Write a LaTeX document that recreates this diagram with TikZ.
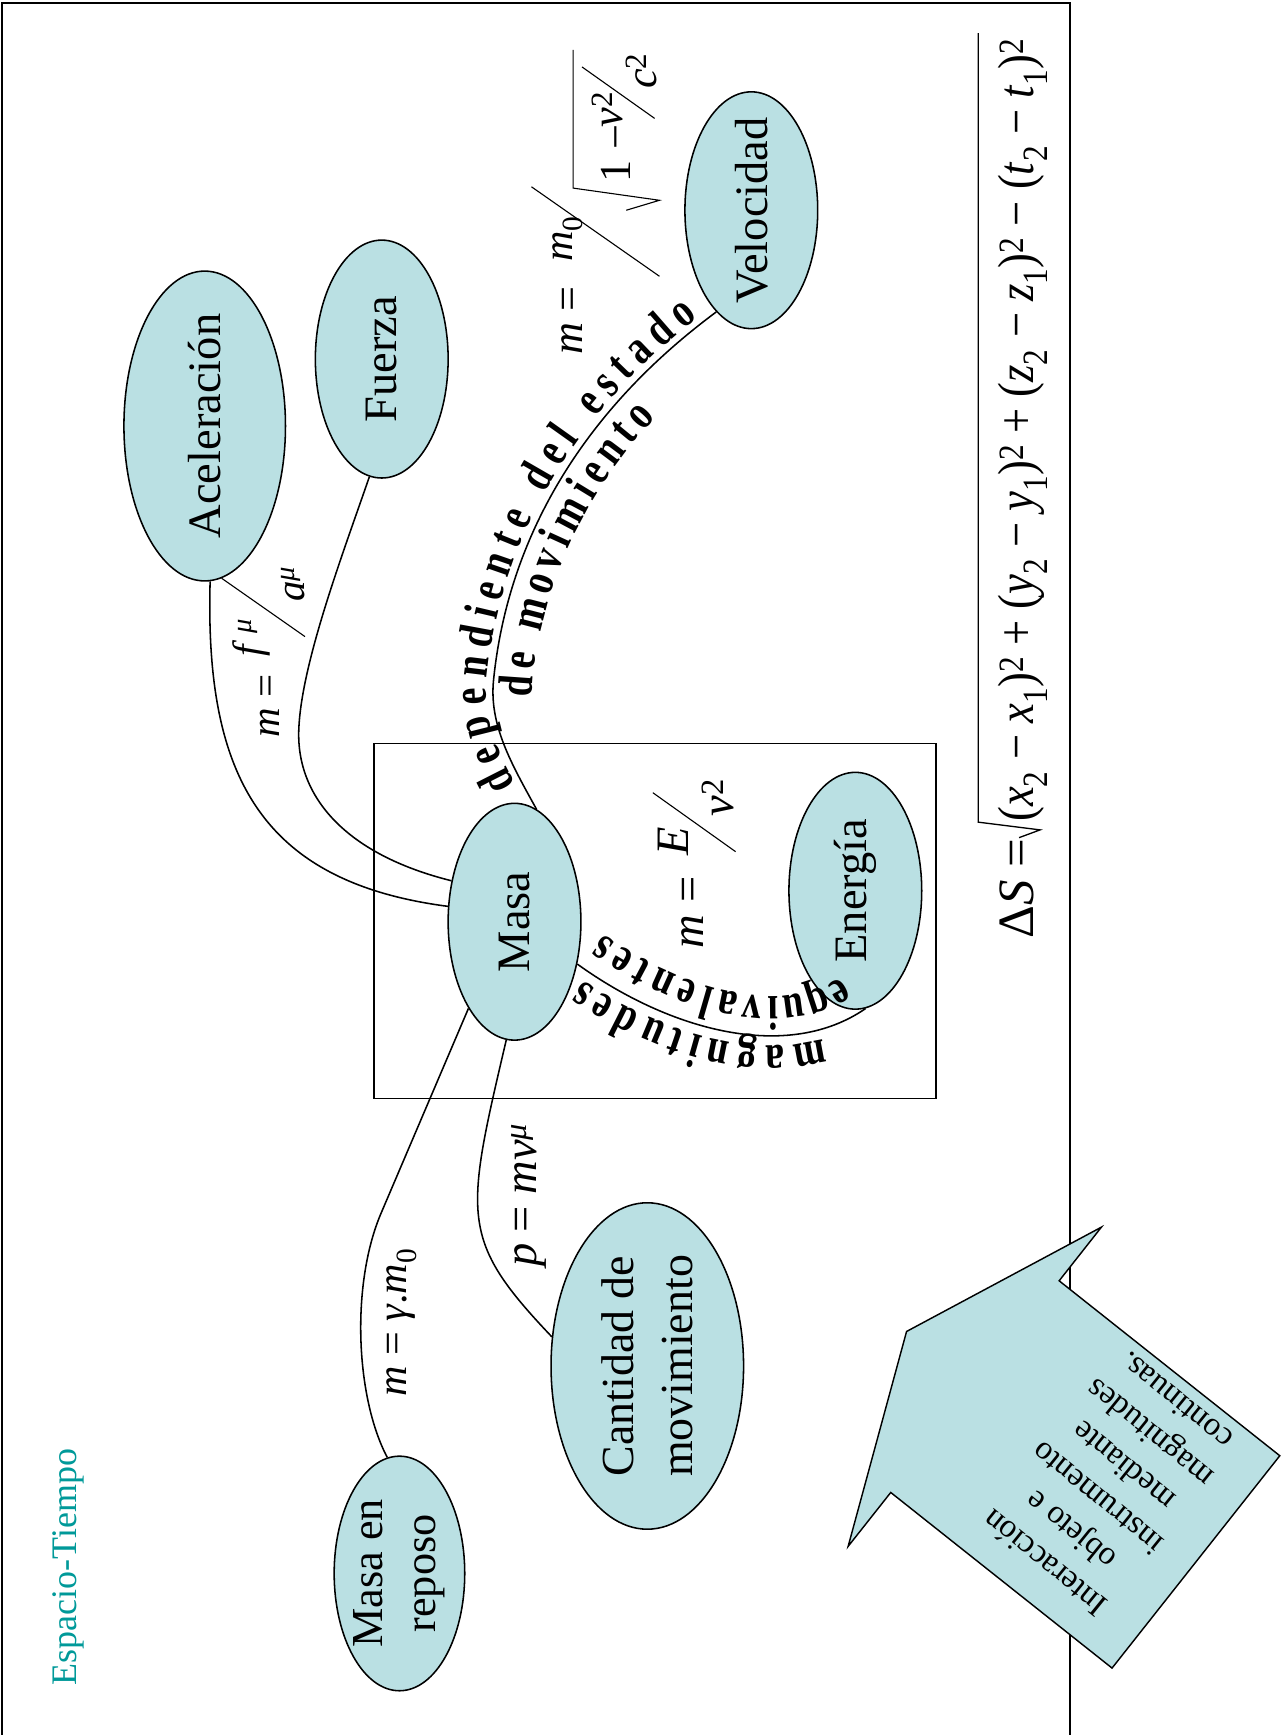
\documentclass[tikz,border=0pt]{standalone}
\usepackage{graphicx}
\usepackage{fontspec}
\setmainfont{Liberation Serif}
\newfontfamily\arcface{Liberation Serif}[FakeStretch=0.78]
\usetikzlibrary{shapes.geometric,decorations.text}
\definecolor{bubble}{RGB}{186,224,227}
\definecolor{titleteal}{RGB}{0,153,153}
\newcommand{\eqsize}[1]{\fontsize{#1}{#1}\selectfont}
\newcommand{\arcfont}{\fontsize{44}{44}\arcface\bfseries}

\begin{document}
\begin{tikzpicture}[x=1pt,y=-1pt,
  bub/.style={ellipse,draw,fill=bubble,line width=1.4pt,inner sep=0pt},
  btext/.style={rotate=90,font=\fontsize{42}{50}\selectfont,align=center,inner sep=0pt},
  link/.style={line width=1.4pt},
  eq/.style={rotate=90,anchor=base,inner sep=0pt},
  frame/.style={line width=1.8pt},
  box/.style={line width=1.3pt}]

\useasboundingbox (0,0) rectangle (1162,1568);

% slide frame
\draw[frame] (2,1575) -- (2,3) -- (967,3) -- (967,1575);

% inner box round mass and energy
\draw[box] (338,672) rectangle (846,993);

% concepts
\node[bub,minimum width=146,minimum height=280] (acel) at (185,385) {};
\node[btext] (acelt) at (acel) {Aceleración};
\node[bub,minimum width=120,minimum height=215] (fuer) at (345,324.5) {};
\node[btext] (fuert) at (fuer) {Fuerza};
\node[bub,minimum width=120,minimum height=214] (velo) at (679,190) {};
\node[btext] (velot) at (velo) {Velocidad};
\node[bub,minimum width=120,minimum height=214] (masa) at (465,833) {};
\node[btext] (masat) at (masa) {Masa};
\node[bub,minimum width=120,minimum height=214] (ener) at (773,805) {};
\node[btext] (enert) at (ener) {Energía};
\node[bub,minimum width=118,minimum height=212] (repo) at (361,1422) {};
\node[btext,font=\fontsize{40}{48}\selectfont] (repot) at (repo) {Masa en\\reposo};
\node[bub,minimum width=174,minimum height=295] (cant) at (585,1234.5) {};
\node[btext,font=\fontsize{41.5}{54}\selectfont] (cantt) at (cant) {Cantidad de\\movimiento};

% connectors
\draw[link] (acel.272) .. controls (185,700) and (235,797) .. (masa.167);
\draw[link] (fuer.264) .. controls (310,500) and (272,600) .. (270,660)
            .. controls (268,720) and (312,772) .. (masa.147);
\draw[link] (masa.79) .. controls (462,690) and (442,655) .. (446,615)
            .. controls (458,495) and (519,377) .. (velo.251);
\draw[link] (masa.326) .. controls (606,932) and (712,960) .. (ener.275);
\draw[link] (masa.242) -- (345,1095) .. controls (317,1159) and (321,1262) .. (repo.96);
\draw[link] (masa.266) .. controls (420,1100) and (415,1120) .. (cant.163);

% words along the connectors
\begin{scope}
\arcfont
\path[decorate,decoration={text along path,raise=6pt,
   text={|\arcfont|dependiente del estado},
   text align={fit to path,left indent=28pt,right indent=16pt}}]
  (masa.79) .. controls (462,690) and (442,655) .. (446,615)
            .. controls (458,495) and (519,377) .. (velo.251);
\path[decorate,decoration={text along path,raise=-35pt,
   text={|\arcfont|de movimiento},
   text align={fit to path,left indent=112pt,right indent=108pt}}]
  (masa.79) .. controls (462,690) and (442,655) .. (446,615)
            .. controls (458,495) and (519,377) .. (velo.251);
\path[decorate,decoration={text along path,raise=9pt,
   text={|\arcfont|magnitudes},
   text align={fit to path,left indent=44pt,right indent=12pt}}]
  (ener.275) .. controls (712,960) and (606,932) .. (masa.326);
\path[decorate,decoration={text along path,raise=-36pt,
   text={|\arcfont|equivalentes},
   text align={fit to path,left indent=6pt,right indent=4pt}}]
  (ener.275) .. controls (712,960) and (606,932) .. (masa.326);
\end{scope}

% m = f/a
\node[eq,font=\eqsize{37}] (fa1) at (253,638) {\textit{m} =};
\node[eq,font=\eqsize{37}] (fa2) at (236,576) {\textit{f}\,\textsuperscript{\textit{μ}}};
\node[eq,font=\eqsize{37}] (fa3) at (275.5,528) {\textit{a}\textsuperscript{\textit{μ}}};
\draw[line width=1pt] (200.3,522.6) -- (275.6,575.3);

% m = m0 / sqrt(1 - v^2/c^2)
\node[eq,font=\eqsize{40}] (mv1) at (526.5,290) {\textit{m} =};
\node[eq,font=\eqsize{38}] (mv2) at (517,216) {\textit{m}\textsubscript{0}};
\draw[line width=1pt] (480.3,168.8) -- (596,249.7);
\draw[line width=1pt] (518,45) -- (518,170) -- (596,181) -- (566,190);
\node[eq,font=\eqsize{40}] (mv3) at (570,139) {1 −};
\node[eq,font=\eqsize{40}] (mv4) at (563,99) {\textit{v}\textsuperscript{2}};
\node[eq,font=\eqsize{40}] (mv5) at (593,64) {\textit{c}\textsuperscript{2}};
\draw[line width=1pt] (526,60.5) -- (591.6,107);

% m = E/v^2
\node[eq,font=\eqsize{42}] (me1) at (636,824.5) {\textit{m} =};
\node[eq,font=\eqsize{42}] (me2) at (622.6,760) {\textit{E}};
\node[eq,font=\eqsize{42}] (me3) at (663,721) {\textit{v}\textsuperscript{2}};
\draw[line width=1pt] (590,716.4) -- (664.8,769.7);

% p = m v
\node[eq,font=\eqsize{42}] (pm) at (485,1080) {\textit{p} = \textit{mv}\textsuperscript{\textit{μ}}};

% m = gamma m0
\node[eq,font=\eqsize{38}] (gm) at (367.5,1195) {\textit{m} = \textit{γ}.\textit{m}\textsubscript{0}};

% interval
\node[eq,font=\eqsize{46}] (ds1) at (934,803) {Δ\textit{S} =};
\draw[line width=1.2pt] (884,30) -- (884,743) -- (940,750) -- (921,757);
\node[eq,font=\eqsize{46}] (ds2) at (934,388.5) {\scalebox{0.875}[1]{(\textit{x}\textsubscript{2} − \textit{x}\textsubscript{1})\textsuperscript{2} + (\textit{y}\textsubscript{2} − \textit{y}\textsubscript{1})\textsuperscript{2} + (\textit{z}\textsubscript{2} − \textit{z}\textsubscript{1})\textsuperscript{2} − (\textit{t}\textsubscript{2} − \textit{t}\textsubscript{1})\textsuperscript{2}}};

% title
\node[rotate=90,text=titleteal,font=\fontsize{32.5}{34}\selectfont] (title) at (62,1416) {Espacio-Tiempo};

% note callout
\draw[fill=bubble,line width=1.3pt] (995.4,1109) -- (957.2,1157.5) -- (1156.6,1315.6)
  -- (1005,1507.5) -- (805,1348.8) -- (766.5,1397.5) -- (819.3,1203.3) -- cycle;
\node[rotate=141,align=center,font=\fontsize{30}{37.7}\selectfont] (note) at (1003,1340)
  {Interacción\\objeto e\\instrumento\\mediante\\magnitudes\\continuas.};
\end{tikzpicture}
\end{document}
